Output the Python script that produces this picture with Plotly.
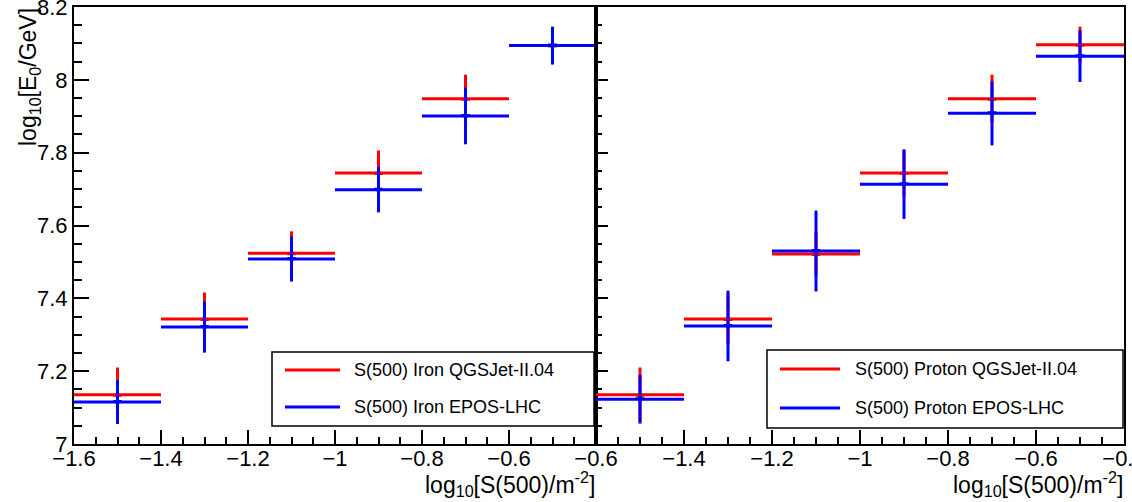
import plotly.graph_objects as go

W, H = 1132, 502

# ---------------- data ----------------
bin_centers = [-1.5, -1.3, -1.1, -0.9, -0.7, -0.5]
bin_halfwidth = [0.1, 0.1, 0.1, 0.1, 0.1, 0.1]

iron_qgsjet_y = [7.135, 7.343, 7.524, 7.744, 7.948, 8.094]
iron_qgsjet_err = [0.075, 0.073, 0.060, 0.062, 0.066, 0.050]
iron_epos_y = [7.115, 7.321, 7.508, 7.698, 7.901, 8.094]
iron_epos_err = [0.060, 0.070, 0.062, 0.062, 0.078, 0.052]

proton_qgsjet_y = [7.135, 7.343, 7.522, 7.744, 7.948, 8.096]
proton_qgsjet_err = [0.075, 0.070, 0.060, 0.065, 0.066, 0.050]
proton_epos_y = [7.123, 7.324, 7.530, 7.713, 7.908, 8.065]
proton_epos_err = [0.067, 0.097, 0.111, 0.095, 0.088, 0.071]

left_xticks = [-1.6, -1.4, -1.2, -1.0, -0.8, -0.6, -0.4]
left_xticktext = ["\u22121.6", "\u22121.4", "\u22121.2", "\u22121", "\u22120.8", "\u22120.6", "\u22120.6"]
right_xticks = [-1.4, -1.2, -1.0, -0.8, -0.6, -0.4]
right_xticktext = ["\u22121.4", "\u22121.2", "\u22121", "\u22120.8", "\u22120.6", "\u22120.4"]
yticks = [7.0, 7.2, 7.4, 7.6, 7.8, 8.0, 8.2]
yticktext = ["7", "7.2", "7.4", "7.6", "7.8", "8", "8.2"]

legend_left = ["S(500) Iron QGSJet-II.04", "S(500) Iron EPOS-LHC"]
legend_right = ["S(500) Proton QGSJet-II.04", "S(500) Proton EPOS-LHC"]

RED, BLUE = "#ff0000", "#0000ff"
FONT = "Liberation Sans, Arial, sans-serif"


def px(x):
    return x / W


def py(y):
    return 1 - y / H


fig = go.Figure()


def add_series(xa, ya, y, err, color, symbol):
    fig.add_trace(go.Scatter(
        x=bin_centers, y=y, xaxis=xa, yaxis=ya, mode="markers",
        marker=dict(symbol=symbol, size=8, color=color),
        error_x=dict(type="data", array=bin_halfwidth, symmetric=True,
                     color=color, thickness=3, width=0),
        error_y=dict(type="data", array=err, symmetric=True,
                     color=color, thickness=3, width=0),
        showlegend=False, hoverinfo="x+y"))


add_series("x", "y", iron_qgsjet_y, iron_qgsjet_err, RED, "triangle-up")
add_series("x", "y", iron_epos_y, iron_epos_err, BLUE, "triangle-down")
add_series("x2", "y2", proton_qgsjet_y, proton_qgsjet_err, RED, "triangle-up")
add_series("x2", "y2", proton_epos_y, proton_epos_err, BLUE, "triangle-down")

ydom = [py(444), py(7)]
tickfont = dict(family=FONT, size=22, color="black")

common_x = dict(range=[-1.6, -0.4], showgrid=False, zeroline=False,
                showline=True, linecolor="black", linewidth=2, mirror=True,
                ticks="inside", ticklen=14, tickwidth=1.5, tickcolor="black",
                minor=dict(dtick=0.05, tick0=-1.6, ticks="inside", ticklen=7,
                           tickwidth=1.5, tickcolor="black"),
                tickmode="array", tickfont=tickfont, ticklabeloverflow="allow",
                ticklabelstandoff=-6)
common_y = dict(range=[7, 8.2], domain=ydom, showgrid=False, zeroline=False,
                showline=True, linecolor="black", linewidth=2, mirror=True,
                ticks="inside", tickwidth=1.5, tickcolor="black",
                minor=dict(dtick=0.05, tick0=7, ticks="inside",
                           tickwidth=1.5, tickcolor="black"),
                tickmode="array", tickvals=yticks, ticktext=yticktext,
                tickfont=tickfont, ticklabeloverflow="allow")

fig.update_layout(
    width=W, height=H,
    margin=dict(l=0, r=0, t=0, b=0, autoexpand=False),
    paper_bgcolor="white", plot_bgcolor="white",
    xaxis=dict(common_x, domain=[px(74), px(596)], anchor="y",
               tickvals=left_xticks, ticktext=left_xticktext),
    yaxis=dict(common_y, anchor="x", ticklen=15,
               minor=dict(common_y["minor"], ticklen=8)),
    xaxis2=dict(common_x, domain=[px(596), px(1124)], anchor="y2",
                tickvals=right_xticks, ticktext=right_xticktext),
    yaxis2=dict(common_y, anchor="x2", ticklen=12, showticklabels=False,
                minor=dict(common_y["minor"], ticklen=6)),
    showlegend=False,
)

# axis titles
fig.add_annotation(x=px(29), y=py(6), xref="paper", yref="paper",
                   text="log<sub>10</sub>[E<sub>0</sub>/GeV]", textangle=-90,
                   xanchor="center", yanchor="top", showarrow=False,
                   font=dict(family=FONT, size=23, color="black"))
for xr in (597, 1125):
    fig.add_annotation(x=px(xr), y=py(484), xref="paper", yref="paper",
                       text="log<sub>10</sub>[S(500)/m<sup>-2</sup>]",
                       xanchor="right", yanchor="middle", showarrow=False,
                       font=dict(family=FONT, size=23, color="black"))

# legends (ROOT-style boxes)
def add_legend(x0, x1, y0, y1, lx0, lx1, ty, tx, labels):
    fig.add_shape(type="rect", xref="paper", yref="paper",
                  x0=px(x0), x1=px(x1), y0=py(y1), y1=py(y0),
                  line=dict(color="black", width=1.5), fillcolor="white",
                  layer="above")
    for yy, col, lab in zip(ty, (RED, BLUE), labels):
        fig.add_shape(type="line", xref="paper", yref="paper",
                      x0=px(lx0), x1=px(lx1), y0=py(yy), y1=py(yy),
                      line=dict(color=col, width=3), layer="above")
        fig.add_annotation(x=px(tx), y=py(yy), xref="paper", yref="paper",
                           text=lab, xanchor="left", yanchor="middle",
                           showarrow=False,
                           font=dict(family=FONT, size=18, color="black"))


add_legend(272, 594, 352, 426, 285, 340, (370, 407), 352, legend_left)
add_legend(767, 1123, 350, 428, 780, 840, (369, 408), 853, legend_right)

fig.write_html("out.html",
               config={"displayModeBar": False},
               post_script="document.body.style.margin='0';"
                           "document.body.style.overflow='hidden';")
